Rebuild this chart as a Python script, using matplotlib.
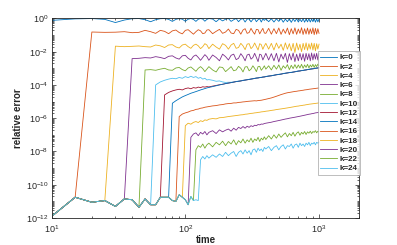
import numpy as np
import matplotlib
matplotlib.use("Agg")
import matplotlib.pyplot as plt
from matplotlib.ticker import LogLocator, LogFormatterSciNotation, NullFormatter

# sample times (s)
t = list(range(10, 151, 5)) + list(range(160, 401, 10)) + list(range(420, 1001, 20))

# log10 of the relative error
# common noise floor before each mode switches on (t = 10 .. 125)
floor = [-11.9, -10.75, -11.05, -10.95, -11.3, -10.85, -10.9, -11.35, -10.85, -11.2,
         -11.2, -10.75, -10.75, -10.75, -10.95, -11.0, -10.6, -10.75, -10.9, -11.2,
         -10.7, -10.95, -10.9, -10.95]

k0 = [-0.12, -0.03, -0.01, -0.06, -0.25, -0.1, -0.02, -0.01, -0.08, -0.2,
      -0.08, -0.02, -0.01, -0.06, -0.18, -0.06, -0.01, -0.05, -0.17, -0.05,
      -0.01, -0.06, -0.18, -0.05, -0.01, -0.04, -0.17, -0.06, -0.01,
      -0.04, -0.2, -0.03, -0.15, -0.05, -0.01, -0.18, -0.08, -0.01, -0.2,
      -0.05, -0.02, -0.22, -0.04, -0.03, -0.21, -0.06, -0.01, -0.2, -0.08,
      -0.02, -0.22, -0.03, -0.12, -0.02,
      -0.2, -0.02, -0.22, -0.03, -0.18, -0.01, -0.23, -0.04, -0.2, -0.02,
      -0.24, -0.03, -0.19, -0.01, -0.22, -0.05, -0.2, -0.02, -0.23, -0.03,
      -0.21, -0.02, -0.22, -0.04, -0.2, -0.02, -0.23, -0.03, -0.21, -0.04]
k2 = [-0.82, -0.84, -0.83, -0.8, -0.86, -0.84, -0.72, -0.8, -0.9, -0.72,
      -0.78, -0.92, -0.75, -0.7, -0.85, -0.93, -0.72, -0.68, -0.82, -0.95,
      -0.8, -0.68, -0.75, -0.92, -0.88, -0.7, -0.68,
      -0.92, -0.78, -0.66, -0.9, -0.82, -0.64, -0.88, -0.92, -0.66, -0.72,
      -0.95, -0.7, -0.62, -0.9, -0.85, -0.6, -0.8, -0.95, -0.66, -0.68,
      -0.93, -0.75, -0.6, -0.88, -0.9,
      -0.6, -0.95, -0.62, -0.92, -0.58, -0.96, -0.65, -0.9, -0.58, -0.98,
      -0.62, -0.93, -0.57, -0.96, -0.64, -0.9, -0.56, -0.97, -0.62, -0.94,
      -0.58, -0.96, -0.63, -0.92, -0.57, -0.98, -0.6, -0.95, -0.62, -0.9]
k4 = [-1.67, -1.7, -1.68, -1.66, -1.7, -1.72, -1.6, -1.65, -1.75, -1.6,
      -1.58, -1.72, -1.78, -1.6, -1.55, -1.7, -1.8, -1.62, -1.55, -1.65,
      -1.82, -1.7, -1.52, -1.6, -1.82,
      -1.55, -1.72, -1.85, -1.52, -1.62, -1.85, -1.6, -1.5, -1.8, -1.75,
      -1.5, -1.65, -1.88, -1.55, -1.52, -1.82, -1.7, -1.48, -1.7, -1.9,
      -1.52, -1.58, -1.86, -1.65, -1.5,
      -1.85, -1.5, -1.9, -1.48, -1.8, -1.55, -1.92, -1.47, -1.85, -1.52,
      -1.95, -1.5, -2.05, -1.48, -1.9, -1.55, -2.0, -1.5, -1.88, -1.47,
      -1.92, -1.52, -1.85, -1.48, -1.9, -1.5, -1.95, -1.52, -1.85, -1.55]
k6 = [-2.42, -2.4, -2.36, -2.38, -2.3, -2.35, -2.42, -2.28, -2.25, -2.38,
      -2.45, -2.25, -2.22, -2.4, -2.5, -2.28, -2.2, -2.35, -2.52, -2.35,
      -2.18, -2.3, -2.52,
      -2.2, -2.35, -2.55, -2.15, -2.3, -2.5, -2.22, -2.15, -2.48, -2.4,
      -2.12, -2.3, -2.55, -2.2, -2.15, -2.45, -2.35, -2.1, -2.35, -2.6,
      -2.15, -2.2, -2.5, -2.3, -2.1,
      -2.5, -2.12, -2.55, -2.1, -2.62, -2.15, -2.45, -2.1, -2.65, -2.12,
      -2.5, -2.08, -2.6, -2.15, -2.55, -2.1, -2.5, -2.12, -2.58, -2.1,
      -2.48, -2.12, -2.55, -2.08, -2.5, -2.12, -2.45, -2.1, -2.5, -2.12]
k8 = [-3.1, -3.08, -3.12, -3.05, -3.0, -3.1, -3.12, -2.98, -2.95, -3.08,
      -3.15, -2.98, -2.92, -3.05, -3.18, -3.0, -2.9, -3.02, -3.2, -3.05,
      -2.9,
      -3.1, -3.22, -2.92, -2.95, -3.2, -3.05, -2.9, -3.15, -3.1, -2.88,
      -3.0, -3.22, -2.92, -2.9, -3.15, -3.05, -2.85, -3.0, -3.2, -2.9,
      -2.88, -3.12, -3.0, -2.85, -3.05,
      -2.85, -3.1, -2.82, -3.05, -2.8, -3.12, -2.85, -3.0, -2.78, -3.08,
      -2.82, -3.02, -2.78, -3.0, -2.8, -2.98, -2.76, -3.0, -2.8, -2.95,
      -2.76, -2.98, -2.8, -2.92, -2.76, -2.95, -2.78, -2.9, -2.75, -2.85]
k10 = [-4.0, -3.82, -3.72, -3.65, -3.6, -3.63, -3.55, -3.6, -3.5, -3.56,
       -3.48, -3.55, -3.5, -3.6, -3.55, -3.65, -3.6, -3.7, -3.68,
       -3.72, -3.78, -3.76, -3.82, -3.85, -3.84, -3.84, -3.82, -3.79, -3.77,
       -3.75, -3.72, -3.7, -3.68, -3.66, -3.64, -3.62, -3.6, -3.58, -3.57,
       -3.55, -3.54, -3.52, -3.51, -3.49,
       -3.46, -3.44, -3.41, -3.38, -3.36, -3.34, -3.31, -3.29, -3.27, -3.25,
       -3.24, -3.22, -3.2, -3.18, -3.16, -3.15, -3.13, -3.12, -3.1, -3.09,
       -3.07, -3.06, -3.04, -3.03, -3.02, -3.01, -2.99, -2.98, -2.97, -2.96]
k12 = [-4.6, -4.45, -4.36, -4.3, -4.26, -4.3, -4.22, -4.18, -4.23, -4.16,
       -4.19, -4.13, -4.16, -4.11, -4.13, -4.1, -4.12,
       -4.07, -4.03, -3.99, -3.96, -3.92, -3.89, -3.86, -3.83, -3.8, -3.78,
       -3.76, -3.73, -3.71, -3.69, -3.67, -3.65, -3.63, -3.61, -3.59, -3.58,
       -3.56, -3.55, -3.53, -3.52, -3.5,
       -3.47, -3.45, -3.42, -3.39, -3.37, -3.35, -3.32, -3.3, -3.28, -3.26,
       -3.25, -3.23, -3.21, -3.19, -3.17, -3.16, -3.14, -3.13, -3.11, -3.1,
       -3.08, -3.07, -3.05, -3.04, -3.03, -3.02, -3.0, -2.99, -2.98, -2.97]
k14 = [-5.1, -4.95, -4.83, -4.72, -4.64, -4.57, -4.5, -4.45, -4.4, -4.35,
       -4.3, -4.26, -4.22, -4.18, -4.15,
       -4.1, -4.05, -4.0, -3.96, -3.92, -3.89, -3.86, -3.83, -3.8, -3.78,
       -3.76, -3.73, -3.71, -3.69, -3.67, -3.65, -3.63, -3.61, -3.59, -3.58,
       -3.56, -3.55, -3.53, -3.52, -3.5,
       -3.47, -3.45, -3.42, -3.39, -3.37, -3.35, -3.32, -3.3, -3.28, -3.26,
       -3.25, -3.23, -3.21, -3.19, -3.17, -3.16, -3.14, -3.13, -3.11, -3.1,
       -3.08, -3.07, -3.05, -3.04, -3.03, -3.02, -3.0, -2.99, -2.98, -2.97]
k16 = [-5.9, -5.75, -5.68, -5.63, -5.56, -5.53, -5.47, -5.45, -5.4, -5.38,
       -5.34, -5.32, -5.3,
       -5.26, -5.24, -5.2, -5.18, -5.14, -5.12, -5.11, -5.08, -5.08, -5.05,
       -5.04, -5.02, -5.01, -4.99, -4.98, -4.97, -4.96, -4.95, -4.96, -4.94,
       -4.93, -4.92, -4.9, -4.88, -4.86,
       -4.82, -4.78, -4.73, -4.68, -4.63, -4.58, -4.54, -4.5, -4.47, -4.45,
       -4.43, -4.41, -4.39, -4.38, -4.36, -4.35, -4.33, -4.32, -4.3, -4.29,
       -4.28, -4.26, -4.25, -4.24, -4.23, -4.22, -4.21, -4.2, -4.19, -4.18]
k18 = [-6.45, -6.3, -6.36, -6.25, -6.2, -6.26, -6.15, -6.2, -6.1, -6.13,
       -6.06,
       -6.02, -6.04, -5.97, -5.96, -5.93, -5.9, -5.88, -5.86, -5.84, -5.82,
       -5.8, -5.79, -5.76, -5.75, -5.73, -5.71, -5.7, -5.68, -5.67, -5.65,
       -5.64, -5.62, -5.61, -5.6, -5.58,
       -5.56, -5.53, -5.51, -5.48, -5.46, -5.44, -5.42, -5.4, -5.38, -5.36,
       -5.34, -5.32, -5.3, -5.28, -5.27, -5.25, -5.24, -5.22, -5.21, -5.19,
       -5.18, -5.16, -5.15, -5.14, -5.13, -5.12, -5.11, -5.1, -5.09, -5.08]
k20 = [-7.15, -6.95, -6.88, -7.05, -6.85, -6.95, -6.8, -7.0, -6.85,
       -6.75, -6.92, -6.7, -6.82, -6.72, -6.65, -6.78, -6.6, -6.72, -6.55,
       -6.62, -6.5, -6.6, -6.48, -6.55, -6.45, -6.5, -6.42, -6.45, -6.38,
       -6.4, -6.35, -6.36, -6.32, -6.3,
       -6.27, -6.24, -6.2, -6.17, -6.14, -6.11, -6.08, -6.05, -6.03, -6.0,
       -5.98, -5.96, -5.94, -5.92, -5.9, -5.88, -5.86, -5.84, -5.82, -5.8,
       -5.78, -5.76, -5.75, -5.73, -5.72, -5.7, -5.68, -5.67, -5.66, -5.65]
k22 = [-7.9, -7.65, -7.75, -7.55, -7.8, -7.6, -7.5,
       -7.72, -7.45, -7.6, -7.38, -7.65, -7.4, -7.55, -7.3, -7.6, -7.35,
       -7.48, -7.25, -7.5, -7.3, -7.42, -7.2, -7.45, -7.25, -7.35, -7.15,
       -7.4, -7.2, -7.3, -7.12, -7.28,
       -7.05, -7.25, -7.0, -7.2, -6.95, -7.15, -7.0, -6.88, -7.12, -6.92,
       -7.05, -6.85, -7.08, -6.9, -6.82, -7.02, -6.85, -6.95, -6.8, -6.98,
       -6.82, -6.9, -6.78, -6.92, -6.8, -6.85, -6.75, -6.88, -6.78, -6.8]
k24 = [-8.5, -8.3, -8.45, -8.25, -8.4,
       -8.2, -8.35, -8.15, -8.3, -8.05, -8.25, -8.1, -8.0, -8.3, -8.05,
       -7.95, -8.15, -7.9, -8.1, -7.95, -8.2, -7.9, -7.85, -8.05, -7.8,
       -7.95, -7.85, -8.0, -7.75, -7.85,
       -7.7, -7.95, -7.75, -7.65, -7.9, -7.7, -7.6, -7.85, -7.65, -7.7,
       -7.55, -7.8, -7.6, -7.55, -7.75, -7.5, -7.65, -7.55, -7.7, -7.5,
       -7.6, -7.45, -7.65, -7.5, -7.55, -7.45, -7.6, -7.45, -7.5, -7.45]

ks = [0, 2, 4, 6, 8, 10, 12, 14, 16, 18, 20, 22, 24]
series = [k0, k2, k4, k6, k8, k10, k12, k14, k16, k18, k20, k22, k24]

colors = ['#0072BD', '#D95319', '#EDB120', '#7E2F8E', '#77AC30', '#4DBEEE', '#A2142F']
axcol = '#262626'

plt.rcParams['font.family'] = ['Liberation Sans', 'DejaVu Sans']
plt.rcParams['mathtext.fontset'] = 'custom'
plt.rcParams['mathtext.rm'] = 'Liberation Sans'

fig = plt.figure(figsize=(3.97, 2.45), dpi=100)
ax = fig.add_axes([0.13, 0.11, 0.775, 0.815])

for n, (k, vals) in enumerate(zip(ks, series)):
    y = floor[:k] + vals
    assert len(y) == len(t), (k, len(y))
    ax.plot(t, 10.0 ** np.array(y), color=colors[n % 7], lw=0.6, label='k=%d' % k)

ax.set_xscale('log')
ax.set_yscale('log')
ax.set_xlim(10, 2000)
ax.set_ylim(1e-12, 1)
ax.set_yticks([1e-12, 1e-10, 1e-8, 1e-6, 1e-4, 1e-2, 1e0])
ax.yaxis.set_major_formatter(LogFormatterSciNotation())
ax.yaxis.set_minor_locator(LogLocator(base=10, subs=np.arange(1, 10), numticks=200))
ax.yaxis.set_minor_formatter(NullFormatter())
ax.xaxis.set_minor_locator(LogLocator(base=10, subs=np.arange(2, 10), numticks=50))
ax.xaxis.set_minor_formatter(NullFormatter())

ax.tick_params(which='both', direction='in', top=True, right=True,
               color=axcol, labelcolor=axcol, labelsize=6.5, width=0.5)
ax.tick_params(which='major', length=3)
ax.tick_params(axis='x', which='major', pad=4)
ax.tick_params(axis='y', which='major', pad=2.5)
ax.tick_params(which='minor', length=1.6)
for s in ax.spines.values():
    s.set_color(axcol)
    s.set_linewidth(0.6)

ax.set_xlabel('time', fontsize=7, fontweight='bold', color=axcol, labelpad=0)
ax.set_ylabel('relative error', fontsize=7, fontweight='bold', color=axcol, labelpad=2)

leg = ax.legend(loc='upper left', bbox_to_anchor=(0.866, 0.835), borderaxespad=0,
                prop={'weight': 'bold', 'size': 5.8},
                handlelength=2.0, handletextpad=0.3, labelspacing=0.2,
                borderpad=0.3, frameon=True, fancybox=False)
leg.get_frame().set_edgecolor('#a0a0a0')
leg.get_frame().set_linewidth(0.6)
for txt in leg.get_texts():
    txt.set_color(axcol)

fig.savefig('out.png', dpi=100)
